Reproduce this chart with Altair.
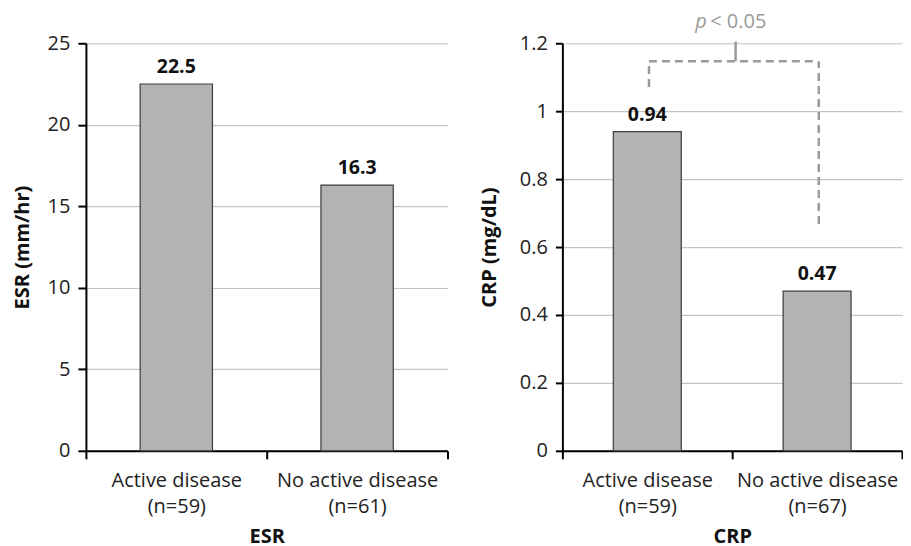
import altair as alt
import pandas as pd

esr_categories = ["Active disease|(n=59)", "No active disease|(n=61)"]
esr_values = [22.5, 16.3]
crp_categories = ["Active disease|(n=59)", "No active disease|(n=67)"]
crp_values = [0.94, 0.47]

esr_ticks = [0, 5, 10, 15, 20, 25]
crp_ticks = [0, 0.2, 0.4, 0.6, 0.8, 1.0, 1.2]

# significance bracket (CRP panel)
bracket_left_y = [1.071, 1.147]
bracket_right_y = [0.668, 1.147]
bracket_top_y = [1.147, 1.205]
p_text_y = 1.262

FONT = "Open Sans"
BAR_FILL = "#b3b3b3"
BAR_STROKE = "#3c3c3c"
BRACKET = "#9a9a9a"


def x_enc(cats, title):
    return alt.X(
        "cat:N",
        sort=cats,
        title=title,
        scale=alt.Scale(domain=cats, paddingInner=0, paddingOuter=0),
        axis=alt.Axis(
            labelAngle=0,
            labelExpr="split(datum.label, '|')",
            labelLineHeight=26,
            labelFontSize=20,
            labelColor="#222222",
            labelPadding=12,
            tickBand="extent",
            tickSize=8,
            tickWidth=2,
            tickColor="#000000",
            domainColor="#000000",
            domainWidth=2,
            titleFontSize=20,
            titleFontWeight="bold",
            titleColor="#111111",
            titlePadding=10,
            grid=False,
        ),
    )


def y_axis(values, fmt, tick, tpad):
    return alt.Axis(
        values=values,
        format=fmt,
        grid=True,
        gridColor="#c4c4c4",
        gridWidth=1.2,
        tickSize=tick,
        tickWidth=2,
        tickColor="#000000",
        domainColor="#000000",
        domainWidth=2,
        labelFontSize=20,
        labelColor="#222222",
        labelPadding=8,
        titleFontSize=20,
        titleFontWeight="bold",
        titleColor="#111111",
        titlePadding=tpad,
    )


def bar_panel(cats, vals, ytitle, xtitle, domain, ticks, fmt, tick, tpad):
    df = pd.DataFrame({"cat": cats, "val": vals})
    base = alt.Chart(df).encode(
        x=x_enc(cats, xtitle),
        y=alt.Y("val:Q", title=ytitle,
                scale=alt.Scale(domain=domain, nice=False),
                axis=y_axis(ticks, fmt, tick, tpad)),
    )
    bars = base.mark_bar(
        width=alt.RelativeBandSize(0.4),
        fill=BAR_FILL, stroke=BAR_STROKE, strokeWidth=1.2,
    )
    labels = base.mark_text(
        baseline="bottom", dy=-7, fontSize=19.5, fontWeight="bold",
        font=FONT, color="#111111",
    ).encode(text=alt.Text("val:Q", format="~g"))
    return bars, labels


esr_bars, esr_labels = bar_panel(esr_categories, esr_values, "ESR (mm/hr)", "ESR",
                                 [0, 25], esr_ticks, "d", 8, 15)
left = alt.layer(esr_bars, esr_labels).properties(width=362, height=408)

crp_bars, crp_labels = bar_panel(crp_categories, crp_values, "CRP (mg/dL)", "CRP",
                                 [0, 1.2], crp_ticks, "~g", 7, 20)

vert_df = pd.DataFrame({
    "cat": [crp_categories[0], crp_categories[1]],
    "y1": [bracket_left_y[0], bracket_right_y[0]],
    "y2": [bracket_left_y[1], bracket_right_y[1]],
})
verts = alt.Chart(vert_df).mark_rule(
    stroke=BRACKET, strokeWidth=2.5, strokeDash=[8, 5]
).encode(
    x=alt.X("cat:N", sort=crp_categories, bandPosition=0.51),
    y=alt.Y("y1:Q"),
    y2="y2:Q",
)
horiz_df = pd.DataFrame({"cat": [crp_categories[0]], "cat2": [crp_categories[1]],
                         "y": [bracket_top_y[0]]})
horiz = alt.Chart(horiz_df).mark_rule(
    stroke=BRACKET, strokeWidth=2.5, strokeDash=[8, 5]
).encode(
    x=alt.X("cat:N", sort=crp_categories, bandPosition=0.51),
    x2="cat2:N",
    y="y:Q",
)
top_df = pd.DataFrame({"cat": [crp_categories[1]], "y1": [bracket_top_y[0]],
                       "y2": [bracket_top_y[1]]})
top = alt.Chart(top_df).mark_rule(
    stroke=BRACKET, strokeWidth=2.5,
).encode(
    x=alt.X("cat:N", sort=crp_categories, bandPosition=0.02),
    y="y1:Q",
    y2="y2:Q",
)
ptxt_df = pd.DataFrame({"cat": [crp_categories[0]], "y": [p_text_y],
                        "p": ["p"], "rest": ["< 0.05"]})
p_italic = alt.Chart(ptxt_df).mark_text(
    align="left", baseline="middle", dx=-37, fontSize=20, fontStyle="italic",
    font=FONT, color=BRACKET,
).encode(
    x=alt.X("cat:N", sort=crp_categories, bandPosition=1),
    y="y:Q", text="p:N",
)
p_rest = alt.Chart(ptxt_df).mark_text(
    align="left", baseline="middle", dx=-22, fontSize=20,
    font=FONT, color=BRACKET,
).encode(
    x=alt.X("cat:N", sort=crp_categories, bandPosition=1),
    y="y:Q", text="rest:N",
)

right = alt.layer(crp_bars, crp_labels, verts, horiz, top, p_italic, p_rest).properties(
    width=340, height=408
)

chart = alt.hconcat(left, right, spacing=30).configure(
    font=FONT,
    padding={"left": 4, "top": 3, "right": 0, "bottom": 10},
).configure_view(stroke=None).configure_axis(labelFont=FONT, titleFont=FONT)

chart.save("out.html", embed_options={"renderer": "svg", "actions": False})
